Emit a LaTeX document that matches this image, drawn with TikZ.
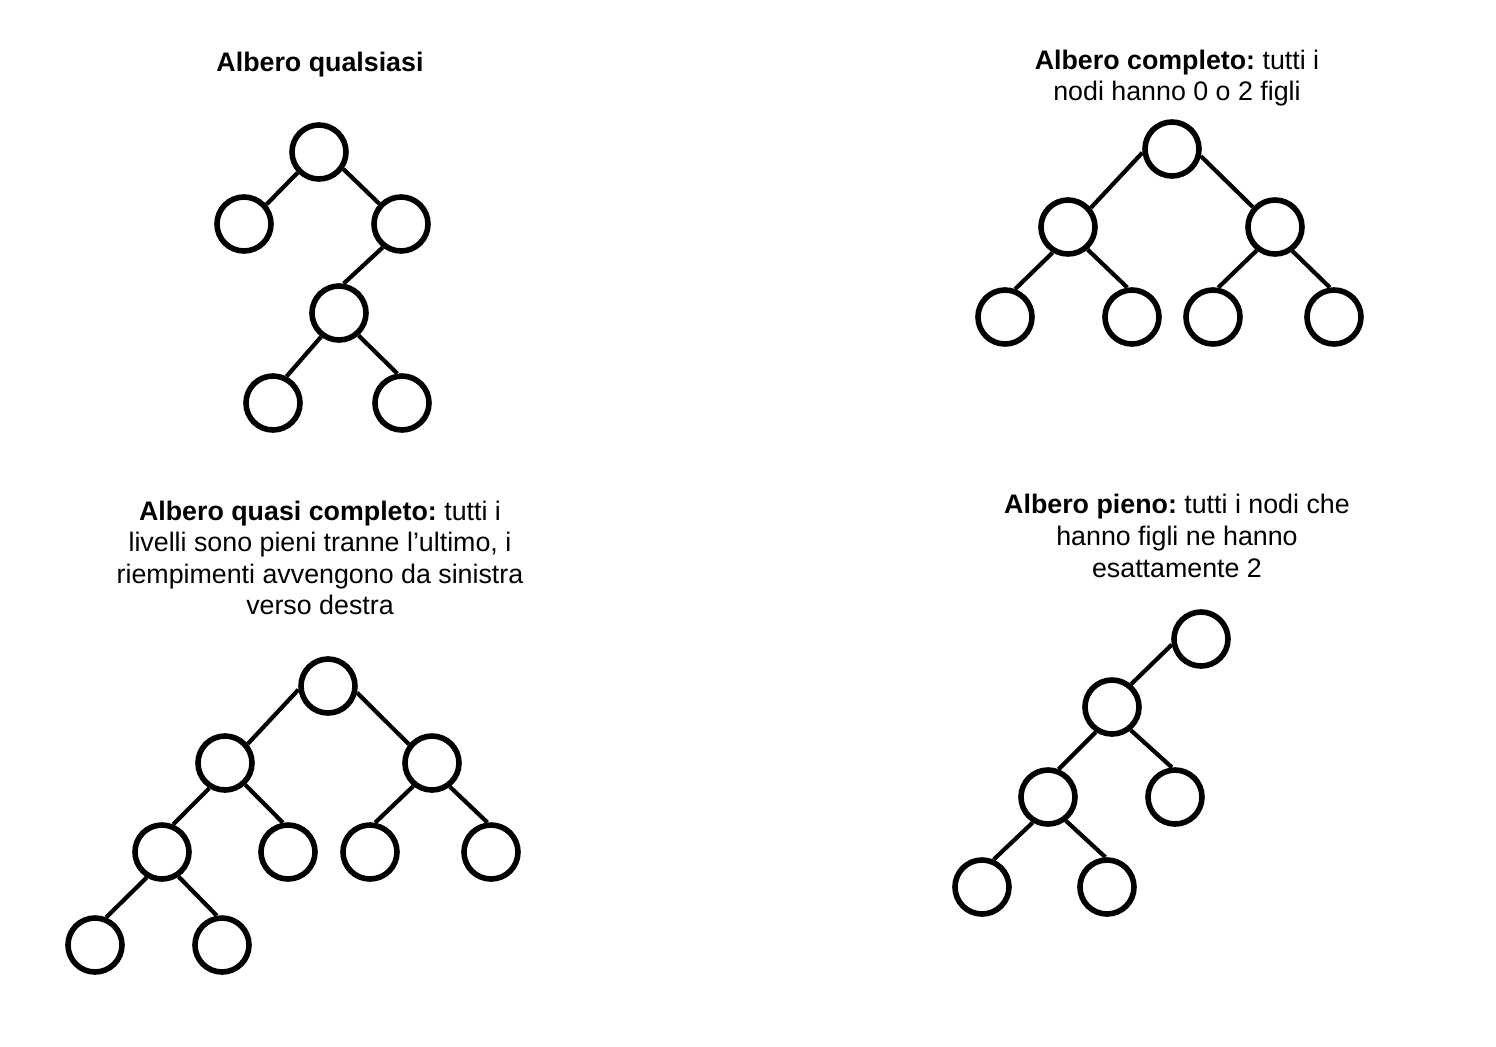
\documentclass[tikz,border=0pt]{standalone}
\usepackage{fontspec}
\setmainfont{Liberation Sans}
\frenchspacing
\tikzset{
	nodo/.style={circle, draw, line width=2.8pt, minimum size=27pt, inner sep=0pt},
	ramo/.style={line width=2.1pt},
	titolo/.style={align=center, font=\fontsize{13.4}{15.8}\selectfont}
}
\begin{document}
\begin{tikzpicture}[x=0.5pt,y=-0.5pt]
		\useasboundingbox (0,0) rectangle (1496,1046);
		% Albero qualsiasi
		\node [titolo] (t1) at (320,65) {\textbf{Albero qualsiasi}};
		\node [nodo] (a0) at (319,152) {};
		\node [nodo] (a1) at (244,224) {};
		\node [nodo] (a2) at (401,224) {};
		\node [nodo] (a3) at (339,313) {};
		\node [nodo] (a4) at (273,403) {};
		\node [nodo] (a5) at (402,403) {};
		\draw [ramo] (a0.224) -- (a1.41); \draw [ramo] (a0.325) -- (a2.137);
		\draw [ramo] (a2.232) -- (a3.81);
		\draw [ramo] (a3.233) -- (a4.63); \draw [ramo] (a3.311) -- (a5.99);
		% Albero completo
		\node [titolo] (t2) at (1177,78) {\textbf{Albero completo:} tutti i\\nodi hanno 0 o 2 figli};
		\node [nodo] (b0) at (1172,149) {};
		\node [nodo] (b1) at (1068,227) {};
		\node [nodo] (b2) at (1275,227) {};
		\node [nodo] (b3) at (1005,317) {};
		\node [nodo] (b4) at (1132,317) {};
		\node [nodo] (b5) at (1213,317) {};
		\node [nodo] (b6) at (1334,317) {};
		\draw [ramo] (b0.187) -- (b1.40); \draw [ramo] (b0.346) -- (b2.138);
		\draw [ramo] (b1.239) -- (b3.70); \draw [ramo] (b1.311) -- (b4.99);
		\draw [ramo] (b2.232) -- (b5.80); \draw [ramo] (b2.306) -- (b6.98);
		% Albero quasi completo
		\node [titolo] (t3) at (320,558) {\textbf{Albero quasi completo:} tutti i\\livelli sono pieni tranne l'ultimo, i\\riempimenti avvengono da sinistra\\verso destra};
		\node [nodo] (c0) at (328,686) {};
		\node [nodo] (c1) at (225,763) {};
		\node [nodo] (c2) at (432,763) {};
		\node [nodo] (c3) at (162,852) {};
		\node [nodo] (c4) at (288,852) {};
		\node [nodo] (c5) at (370,852) {};
		\node [nodo] (c6) at (491,852) {};
		\node [nodo] (c7) at (95,945) {};
		\node [nodo] (c8) at (222,945) {};
		\draw [ramo] (c0.187) -- (c1.40); \draw [ramo] (c0.347) -- (c2.141);
		\draw [ramo] (c1.238) -- (c3.68); \draw [ramo] (c1.313) -- (c4.100);
		\draw [ramo] (c2.231) -- (c5.80); \draw [ramo] (c2.307) -- (c6.97);
		\draw [ramo] (c3.239) -- (c7.68); \draw [ramo] (c3.304) -- (c8.100);
		% Albero pieno
		\node [titolo] (t4) at (1177,536) {\textbf{Albero pieno:} tutti i nodi che\\hanno figli ne hanno\\esattamente 2};
		\node [nodo] (d0) at (1201,639) {};
		\node [nodo] (d1) at (1112,707) {};
		\node [nodo] (d2) at (1048,797) {};
		\node [nodo] (d3) at (1175,797) {};
		\node [nodo] (d4) at (982,887) {};
		\node [nodo] (d5) at (1107,887) {};
		\draw [ramo] (d0.191) -- (d1.50);
		\draw [ramo] (d1.237) -- (d2.69); \draw [ramo] (d1.309) -- (d3.96);
		\draw [ramo] (d2.239) -- (d4.67); \draw [ramo] (d2.307) -- (d5.93);
	\end{tikzpicture}
\end{document}
